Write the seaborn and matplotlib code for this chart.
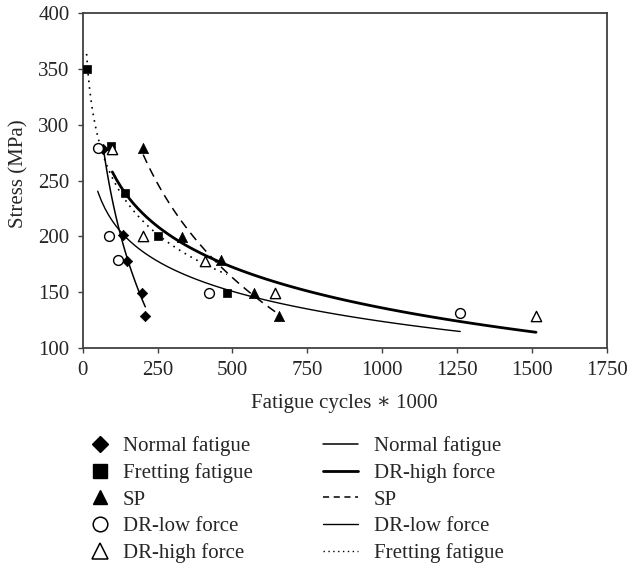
import numpy as np
import pandas as pd
import matplotlib
matplotlib.use("Agg")
import matplotlib.pyplot as plt
from matplotlib.lines import Line2D
import seaborn as sns

# Data (fatigue cycles * 1000, stress in MPa)
normal_x = [68, 136, 147, 198, 209]
normal_y = [278, 201, 178, 149, 129]
fretting_x = [13, 94, 140, 253, 482]
fretting_y = [350, 281, 239, 200, 149]
sp_x = [202, 332, 463, 573, 656]
sp_y = [279, 199, 179, 149, 129]
drlow_x = [50, 88, 118, 422, 1261]
drlow_y = [279, 200, 179, 149, 131]
drhigh_x = [99, 203, 408, 643, 1514]
drhigh_y = [278, 200, 178, 149, 129]

x_ticks = [0, 250, 500, 750, 1000, 1250, 1500, 1750]
y_ticks = [100, 150, 200, 250, 300, 350, 400]

sns.set_style("ticks")
plt.rcParams["font.family"] = ["Liberation Serif", "DejaVu Serif"]
FS = 15
plt.rcParams["font.size"] = FS

fig = plt.figure(figsize=(6.29, 5.67), dpi=100)
ax = fig.add_axes([0.1315, 0.3862, 0.833, 0.5908])

# Trend lines (logarithmic fits, y ~ log x)
reg_kw = dict(logx=True, ci=None, scatter=False, truncate=True, ax=ax)
sns.regplot(x=normal_x, y=normal_y, line_kws=dict(color="black", lw=1.1, ls="-"), **reg_kw)
sns.regplot(x=drhigh_x, y=drhigh_y, line_kws=dict(color="black", lw=2.0, ls="-"), **reg_kw)
sns.regplot(x=sp_x, y=sp_y, line_kws=dict(color="black", lw=1.1, ls=(0, (6, 4))), **reg_kw)
sns.regplot(x=drlow_x, y=drlow_y, line_kws=dict(color="black", lw=1.0, ls="-"), **reg_kw)
sns.regplot(x=fretting_x, y=fretting_y, line_kws=dict(color="black", lw=1.2, ls=(0, (1, 3))), **reg_kw)

# Scatter markers
sns.scatterplot(x=normal_x, y=normal_y, marker="D", s=28, color="black", edgecolor="black", linewidth=0.5, ax=ax, zorder=5)
sns.scatterplot(x=fretting_x, y=fretting_y, marker="s", s=30, color="black", edgecolor="black", linewidth=0.5, ax=ax, zorder=5)
sns.scatterplot(x=sp_x, y=sp_y, marker="^", s=55, color="black", edgecolor="black", linewidth=0.5, ax=ax, zorder=5)
sns.scatterplot(x=drlow_x, y=drlow_y, marker="o", s=50, facecolor="white", edgecolor="black", linewidth=1.0, ax=ax, zorder=5)
sns.scatterplot(x=drhigh_x, y=drhigh_y, marker="^", s=55, facecolor="white", edgecolor="black", linewidth=1.0, ax=ax, zorder=5)

ax.set_xlim(0, 1750)
ax.set_ylim(100, 400)
ax.set_xticks(x_ticks)
ax.set_yticks(y_ticks)
ax.tick_params(direction="out", length=3.5, width=1.0, color="#404040", labelsize=FS, pad=6)
for sp in ax.spines.values():
    sp.set_visible(True)
    sp.set_color("#404040")
    sp.set_linewidth(1.3)

ax.set_xlabel("Fatigue cycles \u2217 1000", fontsize=FS)
ax.set_ylabel("Stress (MPa)", fontsize=FS)
ax.xaxis.set_label_coords(0.5, -0.138)
ax.yaxis.set_label_coords(-0.104, 0.519)

# Legends
marker_handles = [
    Line2D([], [], ls="none", marker="D", ms=8.5, mfc="black", mec="black"),
    Line2D([], [], ls="none", marker="s", ms=10.5, mfc="black", mec="black"),
    Line2D([], [], ls="none", marker="^", ms=10.5, mfc="black", mec="black"),
    Line2D([], [], ls="none", marker="o", ms=10.5, mfc="white", mec="black", mew=1.1),
    Line2D([], [], ls="none", marker="^", ms=11, mfc="white", mec="black", mew=1.1),
]
marker_labels = ["Normal fatigue", "Fretting fatigue", "SP", "DR-low force", "DR-high force"]
line_handles = [
    Line2D([], [], color="black", lw=1.1),
    Line2D([], [], color="black", lw=2.0),
    Line2D([], [], color="black", lw=1.1, ls=(0, (4, 3))),
    Line2D([], [], color="black", lw=1.0),
    Line2D([], [], color="black", lw=1.0, ls=(0, (1, 2.5))),
]
line_labels = ["Normal fatigue", "DR-high force", "SP", "DR-low force", "Fretting fatigue"]

common = dict(loc="upper left", frameon=False, borderpad=0, borderaxespad=0,
              labelspacing=0.34, fontsize=FS)
leg1 = fig.legend(marker_handles, marker_labels, bbox_to_anchor=(0.1424, 0.2307),
                  handlelength=1.0, handletextpad=0.6, **common)
leg2 = fig.legend(line_handles, line_labels, bbox_to_anchor=(0.513, 0.2307),
                  handlelength=1.68, handletextpad=0.77, **common)

fig.savefig("out.png", dpi=100)
